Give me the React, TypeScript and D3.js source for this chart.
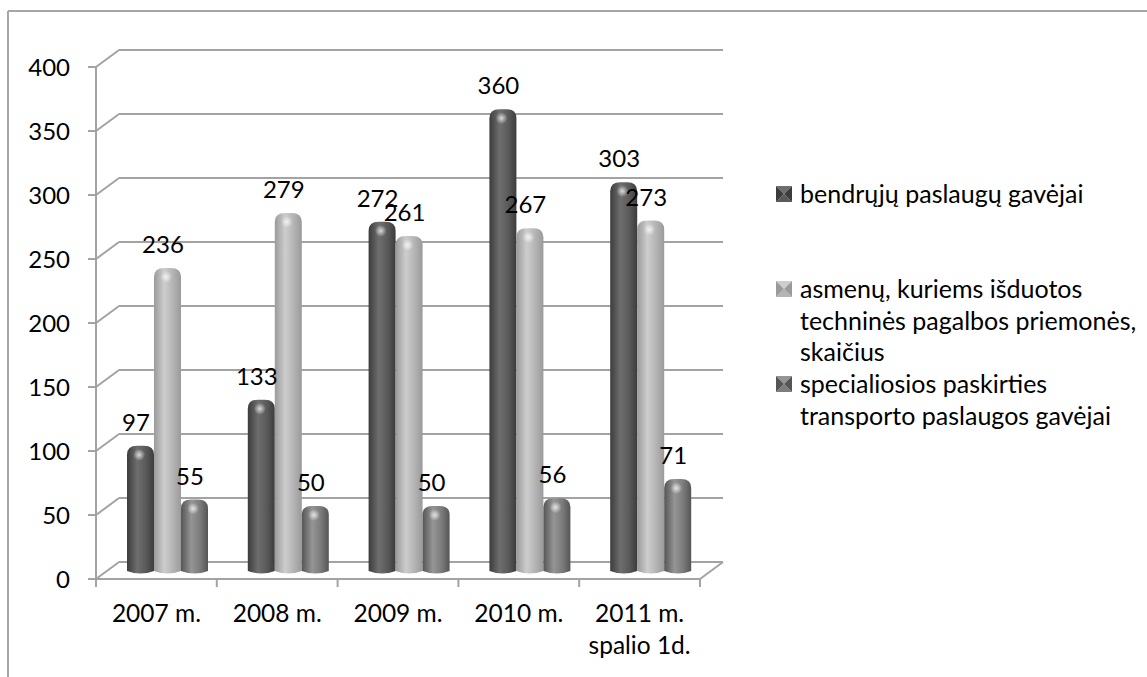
import { useMemo } from 'react'
import * as d3 from 'd3'

const categories = ['2007 m.', '2008 m.', '2009 m.', '2010 m.', '2011 m.\nspalio 1d.']
const seriesNames = [
  'bendrųjų paslaugų gavėjai',
  'asmenų, kuriems išduotos\ntechninės pagalbos priemonės,\nskaičius',
  'specialiosios paskirties\ntransporto paslaugos gavėjai',
]
const bendrujuValues = [97, 133, 272, 360, 303]
const asmenuValues = [236, 279, 261, 267, 273]
const transportoValues = [55, 50, 50, 56, 71]
const yTicks = [0, 50, 100, 150, 200, 250, 300, 350, 400]

const seriesValues = [bendrujuValues, asmenuValues, transportoValues]
// edge, mid, highlight
const seriesColors = [
  ['#3c3c3c', '#6e6e6e', '#5a5a5a'],
  ['#9a9a9a', '#cdcdcd', '#b4b4b4'],
  ['#555555', '#959595', '#7c7c7c'],
]

const FONT = 'Lato, "Open Sans", sans-serif'

export default function App() {
  const W = 1147
  const H = 677
  const depth = { dx: 23, dy: -17 }

  const x = useMemo(() => d3.scaleBand<string>().domain(categories).range([96, 700]), [])
  const inner = useMemo(
    () => d3.scaleBand<number>().domain([0, 1, 2]).range([31, 112]),
    []
  )
  const y = useMemo(() => d3.scaleLinear().domain([0, 400]).range([579, 67]), [])
  const yBar = useMemo(() => d3.scaleLinear().domain([0, 400]).range([573, 61]), [])

  const gridColor = '#a3a3a3'
  const bw = inner.bandwidth()

  const barPath = (x0: number, top: number, base: number, w: number) => {
    const rx = 10
    const ry = 9
    return `M${x0},${base - 2} V${top + ry} Q${x0},${top} ${x0 + rx},${top} H${x0 + w - rx} Q${x0 + w},${top} ${x0 + w},${top + ry} V${base - 2} Q${x0 + w / 2},${base + 3} ${x0},${base - 2} Z`
  }

  const xRight = x.range()[1]

  return (
    <svg width={W} height={H} style={{ position: 'absolute', left: 0, top: 0, background: '#fff' }} fontFamily={FONT}>
      <defs>
        {seriesColors.map((c, i) => (
          <linearGradient key={i} id={`bar${i}`} x1="0" x2="1" y1="0" y2="0">
            <stop offset="0%" stopColor={c[0]} />
            <stop offset="38%" stopColor={c[1]} />
            <stop offset="70%" stopColor={c[2]} />
            <stop offset="100%" stopColor={c[0]} />
          </linearGradient>
        ))}
        <radialGradient id="spot">
          <stop offset="0%" stopColor="#fff" stopOpacity={0.75} />
          <stop offset="100%" stopColor="#fff" stopOpacity={0} />
        </radialGradient>
      </defs>

      {/* frame */}
      <line x1={8} x2={W} y1={11} y2={11} stroke="#a6a6a6" strokeWidth={2} />
      <line x1={8} x2={8} y1={11} y2={H} stroke="#a6a6a6" strokeWidth={2} />

      {/* back wall grid */}
      {yTicks.map(t => (
        <g key={t} stroke={gridColor} strokeWidth={2} fill="none">
          <line x1={x.range()[0]} y1={y(t)} x2={x.range()[0] + depth.dx} y2={y(t) + depth.dy} />
          <line x1={x.range()[0] + depth.dx} y1={y(t) + depth.dy} x2={xRight + depth.dx} y2={y(t) + depth.dy} />
          <line x1={88} x2={96} y1={y(t)} y2={y(t)} />
        </g>
      ))}
      {/* floor front + axes */}
      <g stroke={gridColor} strokeWidth={2}>
        <line x1={96} x2={96} y1={y(400)} y2={y(0)} />
        <line x1={96} x2={xRight} y1={y(0)} y2={y(0)} />
        <line x1={xRight} y1={y(0)} x2={xRight + depth.dx} y2={y(0) + depth.dy} />
        {categories.map(c => (
          <line key={c} x1={x(c)!} x2={x(c)!} y1={y(0)} y2={y(0) + 8} />
        ))}
        <line x1={xRight} x2={xRight} y1={y(0)} y2={y(0) + 8} />
      </g>

      {/* y labels */}
      {yTicks.map(t => (
        <text key={t} x={70} y={y(t)} dy="0.36em" textAnchor="end" fontSize={24} fill="#000">
          {t}
        </text>
      ))}

      {/* bars */}
      {categories.map((c, ci) =>
        seriesValues.map((vals, si) => {
          const v = vals[ci]
          const x0 = x(c)! + inner(si)!
          const top = yBar(v) - 3
          const base = yBar(0)
          return (
            <g key={`${ci}-${si}`}>
              <path d={barPath(x0, top, base, bw)} fill={`url(#bar${si})`} />
              <ellipse cx={x0 + bw * 0.45} cy={top + 9} rx={6} ry={6} fill="url(#spot)" />
            </g>
          )
        })
      )}

      {/* value labels */}
      {categories.map((c, ci) =>
        seriesValues.map((vals, si) => {
          const v = vals[ci]
          const cx = x(c)! + inner(si)! + bw / 2 - 4.5
          return (
            <text key={`l${ci}-${si}`} x={cx} y={yBar(v) - 18} textAnchor="middle" fontSize={24} fill="#000">
              {v}
            </text>
          )
        })
      )}

      {/* x labels */}
      {categories.map(c => (
        <text key={c} x={x(c)! + x.bandwidth() / 2} y={622} textAnchor="middle" fontSize={24.5} fill="#000">
          {c.split('\n').map((line, i) => (
            <tspan key={i} x={x(c)! + x.bandwidth() / 2} dy={i === 0 ? 0 : 32}>
              {line}
            </tspan>
          ))}
        </text>
      ))}

      {/* legend */}
      {seriesNames.map((name, i) => {
        const rowY = [194, 289, 384][i]
        const mx = 776
        const my = rowY - 8
        const s = 16
        const c = seriesColors[i]
        const cxm = mx + s / 2
        const cym = my + s / 2
        return (
          <g key={name}>
            <polygon points={`${mx},${my} ${mx + s},${my} ${cxm},${cym}`} fill={c[1]} />
            <polygon points={`${mx},${my + s} ${mx + s},${my + s} ${cxm},${cym}`} fill={c[2]} />
            <polygon points={`${mx},${my} ${mx},${my + s} ${cxm},${cym}`} fill={c[0]} />
            <polygon points={`${mx + s},${my} ${mx + s},${my + s} ${cxm},${cym}`} fill={c[0]} />
            <text x={800} y={rowY} fontSize={25} fill="#000">
              {name.split('\n').map((line, li) => (
                <tspan key={li} x={800} dy={li === 0 ? '0.36em' : 31.7}>
                  {line}
                </tspan>
              ))}
            </text>
          </g>
        )
      })}
    </svg>
  )
}
